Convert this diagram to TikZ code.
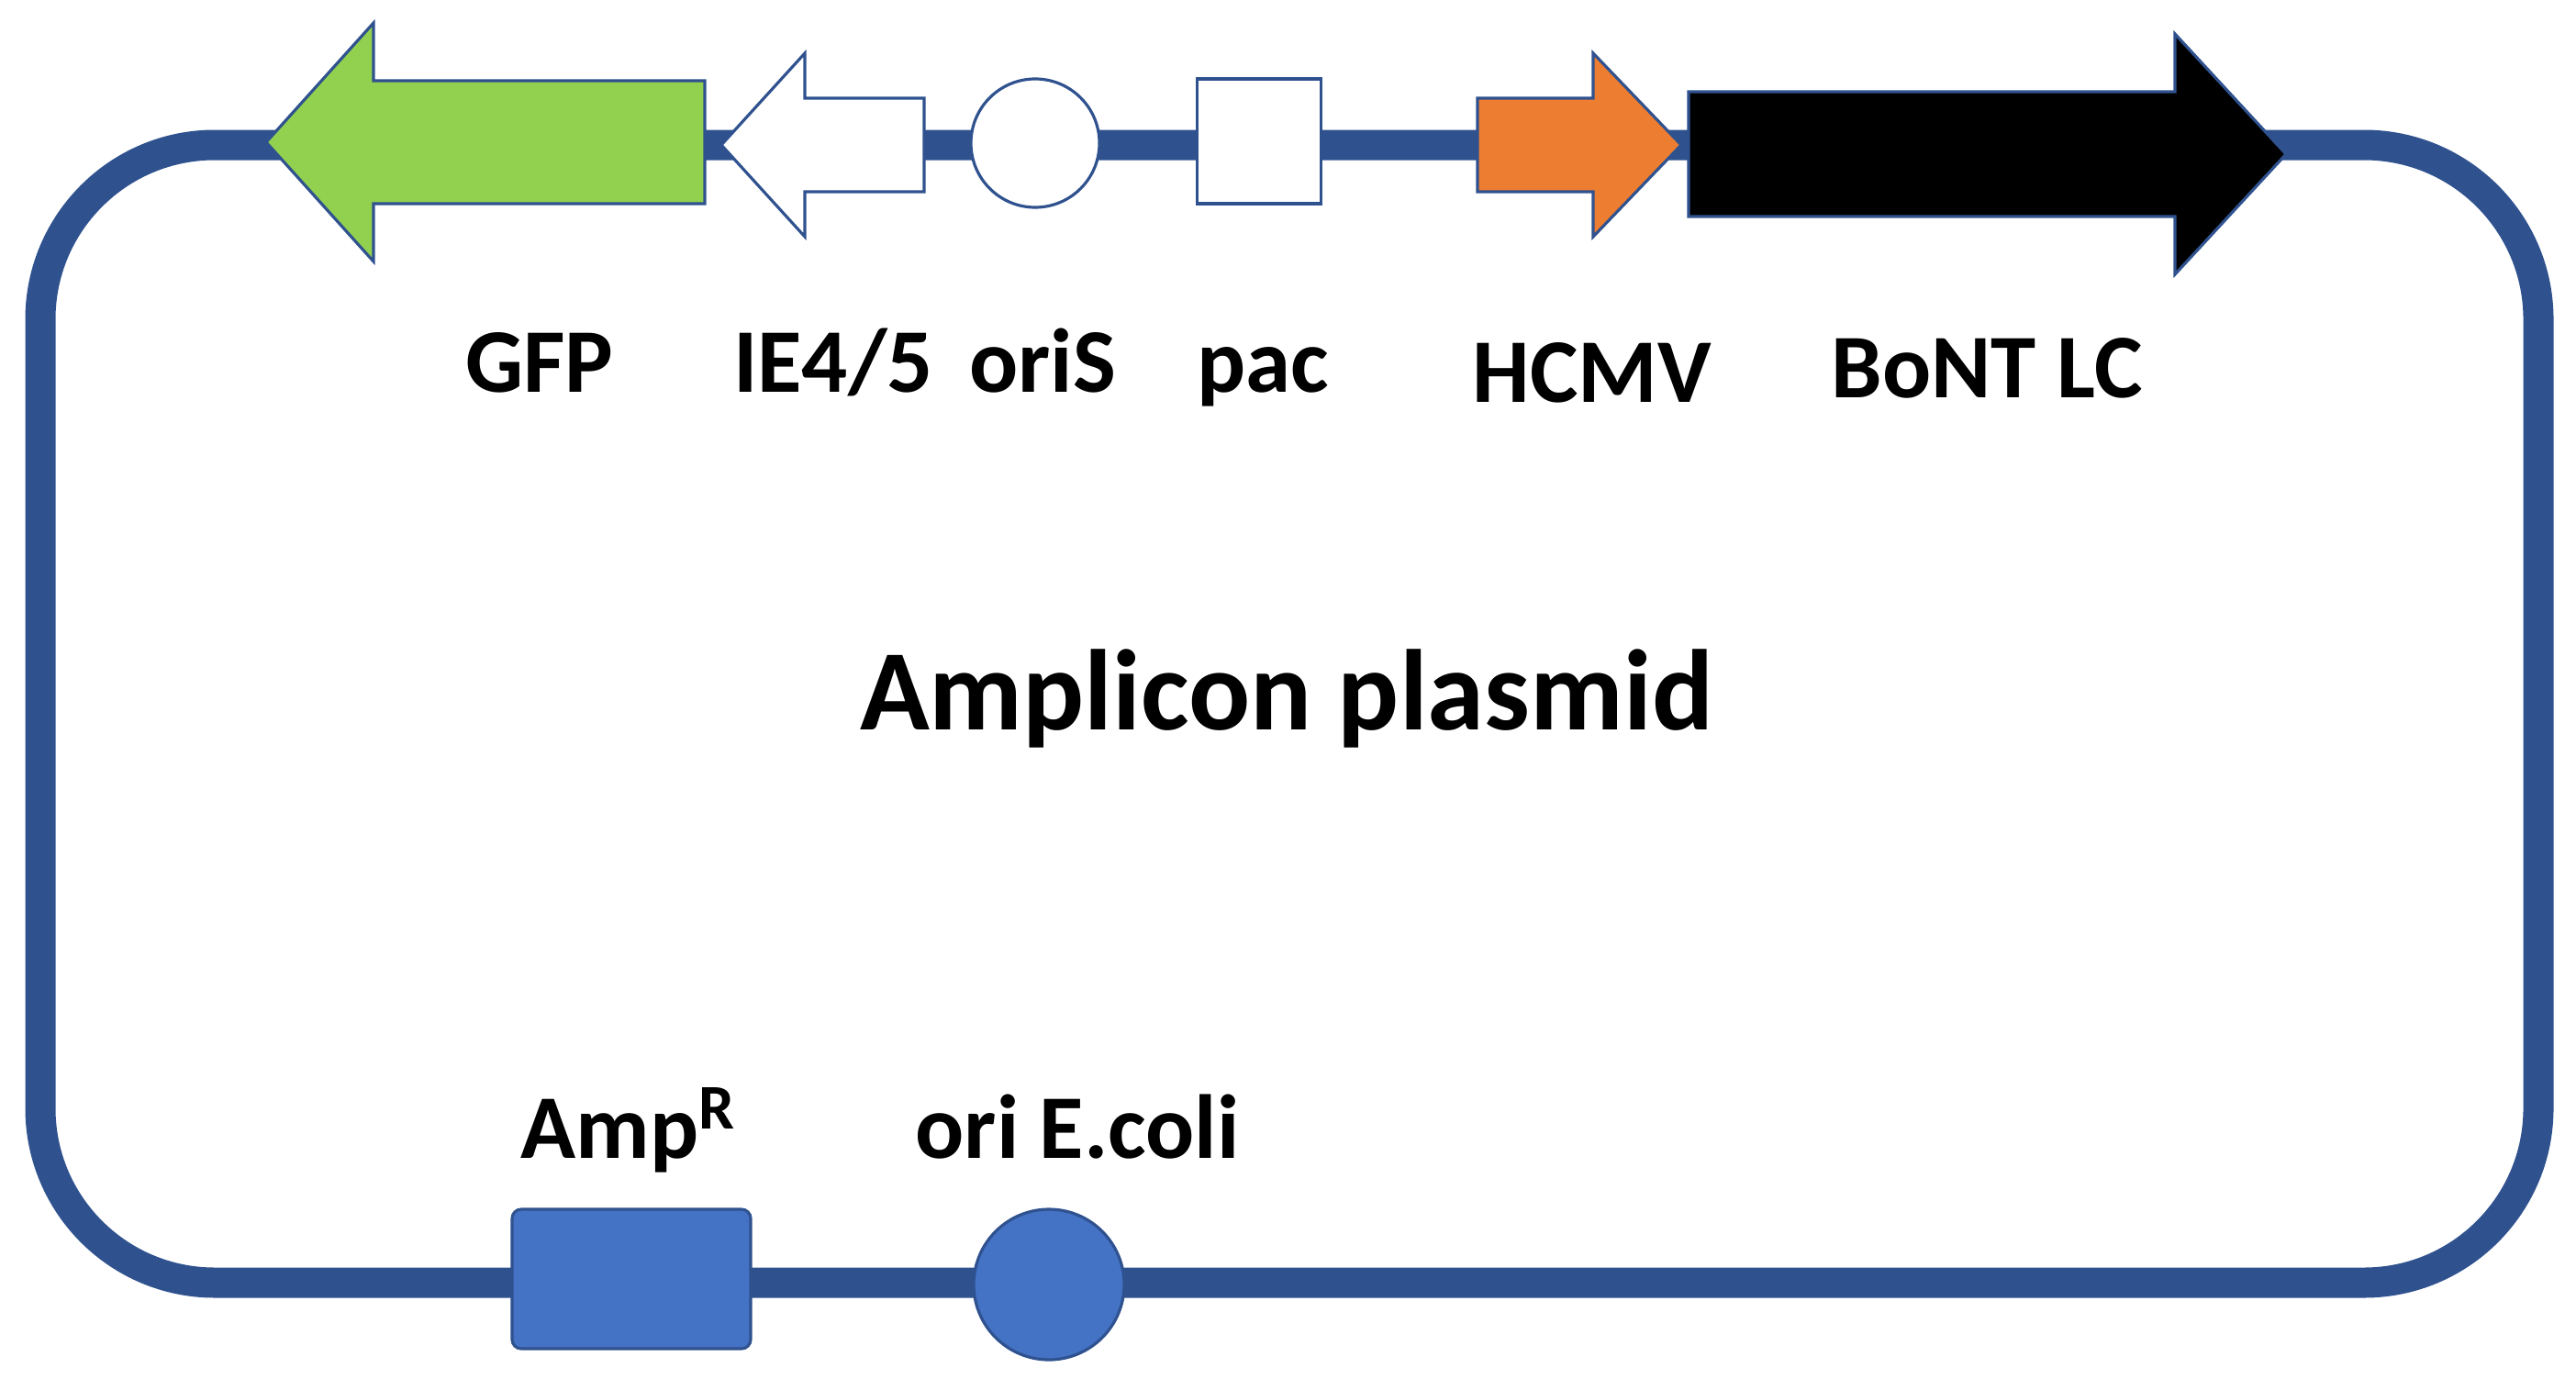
\documentclass[tikz,border=0pt]{standalone}
\usepackage{fontspec}
\setmainfont{Carlito}
\usepackage{tikz}
\usepackage{xcolor}
\usetikzlibrary{positioning,calc}

\definecolor{lineblue}{HTML}{2F528F}
\definecolor{ampblue}{HTML}{4472C4}
\definecolor{gfpgreen}{HTML}{92D050}
\definecolor{hcmvorange}{HTML}{ED7D31}

\tikzset{
  backbone/.style={draw=lineblue, line width=0.33cm, rounded corners=1.9cm},
  genepart/.style={draw=lineblue, line width=0.9pt, line join=miter},
  genelabel/.style={anchor=base, inner sep=0pt, font=\fontsize{28.2}{31}\selectfont\bfseries},
}

\begin{document}
\begin{tikzpicture}

\useasboundingbox (0,0) rectangle (28.07,15.14);

% Backbone

\draw[backbone] (0.44,1.16) rectangle (27.66,13.56);

% Top row

\coordinate (GFPTip)  at (2.90,13.59);
\coordinate (IETip)   at (7.86,13.56);
\coordinate (HCMVTip) at (18.32,13.56);
\coordinate (BoNTTip) at (24.91,13.46);

\draw[genepart, fill=gfpgreen] (7.68,14.26) -- (4.07,14.26) -- (4.07,14.89) -- (GFPTip) -- (4.07,12.29) -- (4.07,12.92) -- (7.68,12.92) -- cycle;
\draw[genepart, fill=white] (10.07,14.07) -- (8.77,14.07) -- (8.77,14.56) -- (IETip) -- (8.77,12.56) -- (8.77,13.05) -- (10.07,13.05) -- cycle;

\node[circle, genepart, fill=white, minimum size=1.40cm, inner sep=0pt] (oriSNode) at (11.28,13.58) {};
\node[rectangle, genepart, fill=white, minimum width=1.35cm, minimum height=1.36cm, inner sep=0pt] (pacNode) at (13.72,13.60) {};

\draw[genepart, fill=hcmvorange] (16.10,14.07) -- (17.36,14.07) -- (17.36,14.56) -- (HCMVTip) -- (17.36,12.56) -- (17.36,13.05) -- (16.10,13.05) -- cycle;
\draw[genepart, fill=black] (18.40,14.14) -- (23.70,14.14) -- (23.70,14.77) -- (BoNTTip) -- (23.70,12.15) -- (23.70,12.78) -- (18.40,12.78) -- cycle;

\node[genelabel] (GFPLabel)  at (5.88,10.87) {GFP};
\node[genelabel] (IELabel)   at (9.08,10.87) {IE4/5};
\node[genelabel] (oriSLabel) at (11.36,10.87) {oriS};
\node[genelabel] (pacLabel)  at (13.76,10.87) {pac};
\node[genelabel] (HCMVLabel) at (17.35,10.76) {HCMV};
\node[genelabel] (BoNTLabel) at (21.65,10.81) {BoNT LC};

% Title

\node[anchor=base, inner sep=0pt, font=\fontsize{35.6}{39}\selectfont\bfseries] (PlasmidTitle) at (14.02,7.19) {Amplicon plasmid};

% Bottom row

\node[rectangle, rounded corners=0.1cm, genepart, fill=ampblue, minimum width=2.60cm, minimum height=1.52cm, inner sep=0pt] (AmpNode) at (6.88,1.20) {};
\node[circle, genepart, fill=ampblue, minimum size=1.64cm, inner sep=0pt] (oriEcoliNode) at (11.43,1.14) {};

\node[genelabel, anchor=base west] (AmpLabel) at (5.67,2.52) {Amp\textsuperscript{R}};
\node[genelabel] (oriEcoliLabel) at (11.74,2.52) {ori E.coli};

\end{tikzpicture}
\end{document}
